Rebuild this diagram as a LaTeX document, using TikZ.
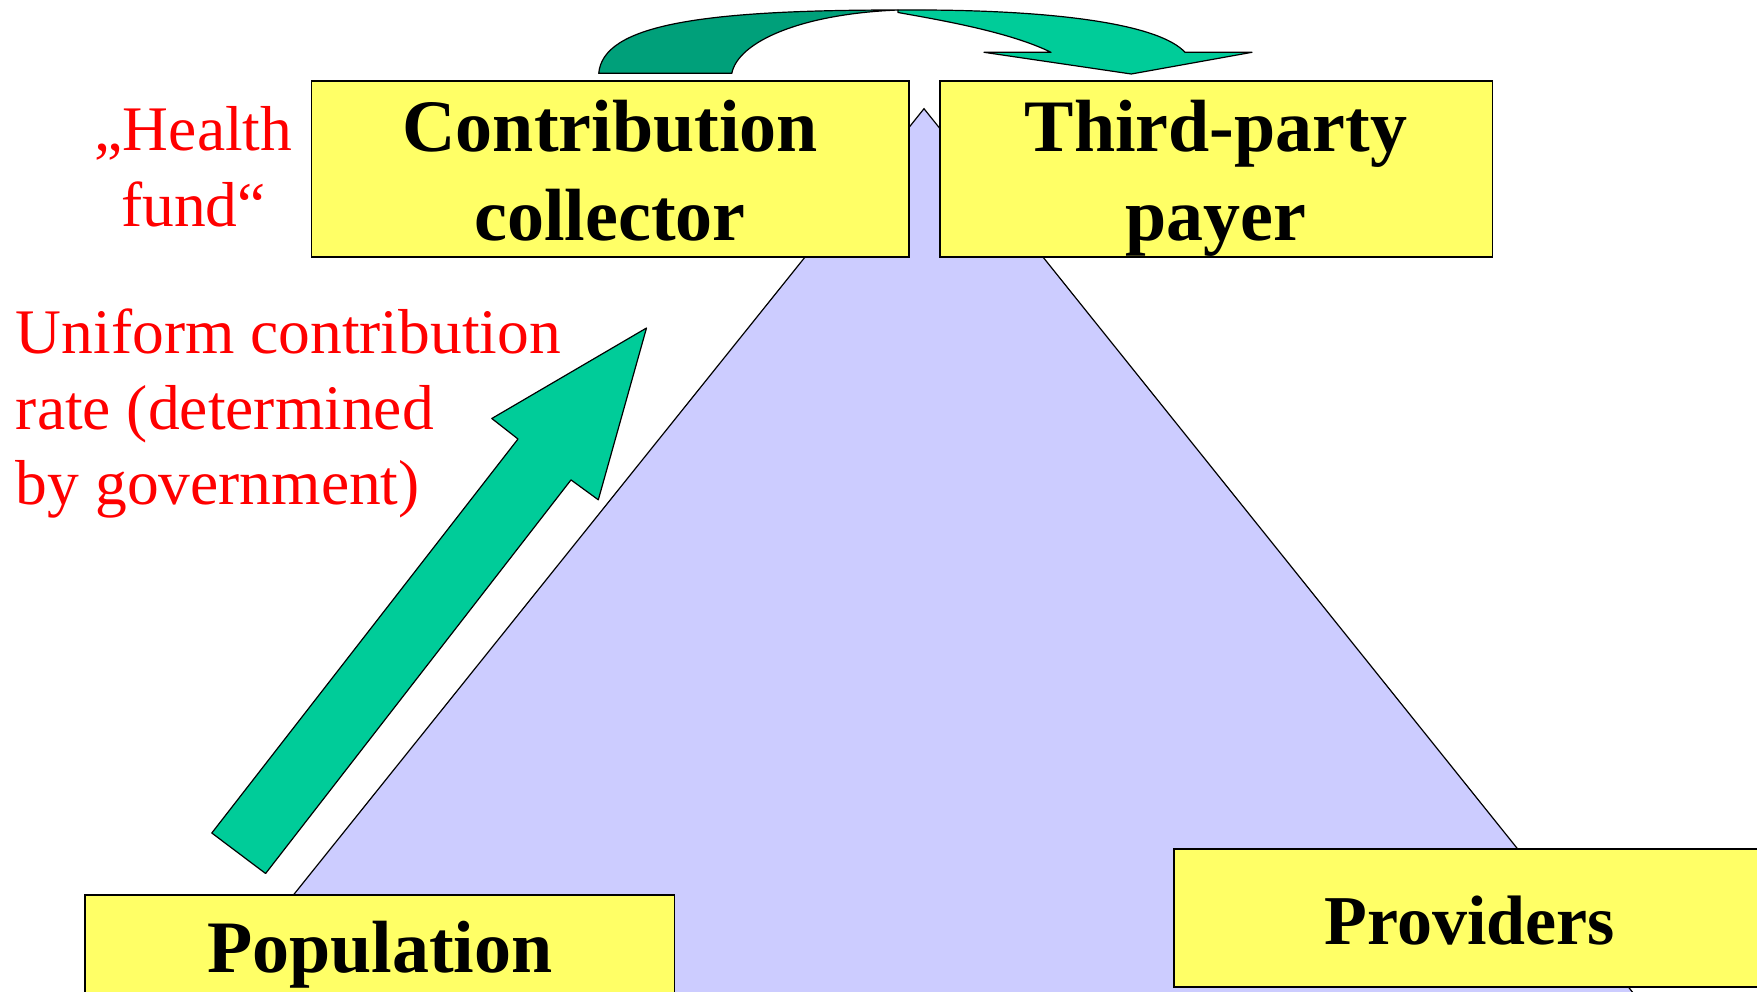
\documentclass[tikz,border=0pt]{standalone}
\usepackage{fontspec}
\setmainfont{Liberation Serif}
\usetikzlibrary{calc}
\definecolor{boxyellow}{HTML}{FFFF66}
\definecolor{tribg}{HTML}{CCCCFF}
\definecolor{greenlight}{HTML}{00CC99}
\definecolor{greendark}{HTML}{00A07A}
\definecolor{redtext}{HTML}{FF0000}
\tikzset{
  boxnode/.style={rectangle, draw=black, line width=1.8pt, fill=boxyellow, inner sep=0pt},
  boxtext/.style={font=\fontsize{74}{89}\selectfont\bfseries, inner sep=0pt, anchor=base},
  redlabel/.style={font=\fontsize{63.5}{75.5}\selectfont, text=redtext, inner sep=0pt},
  trishape/.style={fill=tribg, draw=black, line width=1.2pt},
  greenshape/.style={draw=black, line width=1.2pt, line join=round}
}
\begin{document}
\begin{tikzpicture}[x=1pt,y=-1pt]
\useasboundingbox (0,0) rectangle (1757,991);
\clip (0,0) rectangle (1757,991);
\fill[white] (0,0) rectangle (1757,991);
% triangle
\filldraw[trishape] (924,108.7) -- (1719,1100) -- (129,1100) -- cycle;
% boxes
\node[boxnode, minimum width=597.2pt, minimum height=176pt] (cc) at (610.1,168.6) {};
\node[boxnode, minimum width=552.5pt, minimum height=176pt] (tp) at (1216.25,168.6) {};
\node[boxnode, minimum width=589.5pt, minimum height=200pt] (pop) at (379.75,995.3) {};
\node[boxnode, minimum width=620pt, minimum height=137.7pt] (prov) at (1484,918.15) {};
% box texts
\node[boxtext] (cct) at (610.1,151) {\begin{tabular}[t]{@{}c@{}}Contribution\\collector\end{tabular}};
\node[boxtext] (tpt) at (1216,151) {\begin{tabular}[t]{@{}c@{}}Third-party\\payer\end{tabular}};
\node[boxtext] (popt) at (379.75,972.3) {Population};
\node[boxtext, font=\fontsize{70}{84}\selectfont\bfseries] (provt) at (1470,944) {Providers};
% red labels
\node[redlabel, anchor=base] (hf) at (193.5,150.7) {\begin{tabular}[t]{@{}c@{}}„Health\\fund“\end{tabular}};
\node[redlabel, anchor=base west] (ucr) at (15.7,353.6) {\begin{tabular}[t]{@{}l@{}}Uniform contribution\\rate (determined\\by government)\end{tabular}};
% up arrow
\filldraw[greenshape, fill=greenlight] (646.5,328) -- (598.3,499.8) -- (571,479.9) -- (265.6,873.5) -- (211.8,833) -- (518,439) -- (491.8,418.5) -- cycle;
% curved arrow, dark part
\filldraw[greenshape, fill=greendark] (598.75,73.3) .. controls (603,25) and (700,10) .. (898,10)
  .. controls (800,14) and (738,42) .. (731.8,73.3) -- cycle;
% curved arrow, light part
\filldraw[greenshape, fill=greenlight] (898,10) .. controls (1060,9) and (1160,25) .. (1185,52.3)
  -- (1252,52.3) -- (1131.3,74) -- (984,52.3) -- (1051,52.3)
  .. controls (1010,32) and (940,20) .. (898,12.5) -- cycle;
\end{tikzpicture}
\end{document}
